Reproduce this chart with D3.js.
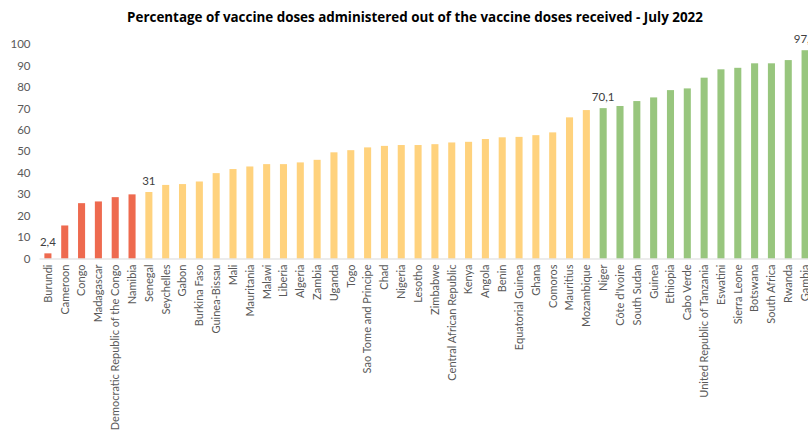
<!DOCTYPE html>
<html>
<head>
<meta charset="utf-8">
<script src="https://cdn.jsdelivr.net/npm/d3@7"></script>
<style>
  body { margin: 0; background: #fff; }
  svg { display: block; }
</style>
</head>
<body>
<script>
// countries, in the order of the chart
var countries = ["Burundi", "Cameroon", "Congo", "Madagascar", "Democratic Republic of the Congo", "Namibia",
  "Senegal", "Seychelles", "Gabon", "Burkina Faso", "Guinea-Bissau", "Mali", "Mauritania", "Malawi",
  "Liberia", "Algeria", "Zambia", "Uganda", "Togo", "Sao Tome and Principe", "Chad", "Nigeria", "Lesotho",
  "Zimbabwe", "Central African Republic", "Kenya", "Angola", "Benin", "Equatorial Guinea", "Ghana",
  "Comoros", "Mauritius", "Mozambique", "Niger", "Côte d'Ivoire", "South Sudan", "Guinea", "Ethiopia",
  "Cabo Verde", "United Republic of Tanzania", "Eswatini", "Sierra Leone", "Botswana", "South Africa",
  "Rwanda", "Gambia"];
// percentage of doses administered
var values = [2.4, 15.4, 25.8, 26.6, 28.6, 29.9,
  31, 34.3, 34.7, 35.9, 39.8, 41.7, 42.9, 44.0,
  44.0, 44.8, 46.0, 49.5, 50.5, 51.8, 52.5, 52.9, 52.9,
  53.3, 54.1, 54.4, 55.7, 56.5, 56.7, 57.5,
  58.8, 65.8, 69.2, 70.1, 71.1, 73.4, 75.1, 78.5,
  79.3, 84.3, 88.2, 88.9, 91.0, 91.0,
  92.5, 97.1];
// group of each bar: 0 = under 30, 1 = 30-70, 2 = over 70
var groups = [0, 0, 0, 0, 0, 0,
  1, 1, 1, 1, 1, 1, 1, 1, 1, 1, 1, 1, 1, 1, 1, 1, 1, 1, 1, 1, 1, 1, 1, 1, 1, 1, 1,
  2, 2, 2, 2, 2, 2, 2, 2, 2, 2, 2, 2, 2];
// bars that carry a value label
var labelled = ["Burundi", "Senegal", "Niger", "Gambia"];
var labelText = ["2,4", "31", "70,1", "97,1"];
var yTicks = [0, 10, 20, 30, 40, 50, 60, 70, 80, 90, 100];

var colors = ["#ee6a4f", "#ffd27d", "#98c67e"];

var svgWidth = 808;
var svgHeight = 431;
var plotLeft = 39.5;
var plotRight = 813.5;
var plotTop = 44;
var plotBottom = 258.5;

var svg = d3.select('body').append('svg')
  .attr('width', svgWidth)
  .attr('height', svgHeight);

var xScale = d3.scaleBand()
  .domain(countries)
  .range([plotLeft, plotRight])
  .paddingInner(0.58)
  .paddingOuter(0.29);

var yScale = d3.scaleLinear()
  .domain([0, 100])
  .range([plotBottom, plotTop]);

// title
svg.append('text')
  .attr('x', 415)
  .attr('y', 22)
  .attr('text-anchor', 'middle')
  .style('font-family', 'Open Sans')
  .style('font-weight', 'bold')
  .style('font-size', '13.4px')
  .attr('fill', '#000')
  .text('Percentage of vaccine doses administered out of the vaccine doses received - July 2022');

// bars
svg.selectAll('rect.bar')
  .data(countries)
  .enter()
  .append('rect')
  .attr('class', 'bar')
  .attr('x', function(d) { return xScale(d); })
  .attr('width', xScale.bandwidth())
  .attr('y', function(d, i) { return yScale(values[i]); })
  .attr('height', function(d, i) { return yScale(0) - yScale(values[i]); })
  .attr('fill', function(d, i) { return colors[groups[i]]; });

// y axis (labels only)
var yAxis = d3.axisLeft(yScale)
  .tickValues(yTicks)
  .tickSize(0)
  .tickPadding(9);

var yg = svg.append('g')
  .attr('transform', 'translate(' + plotLeft + ',0)')
  .call(yAxis);
yg.select('.domain').remove();
yg.selectAll('text')
  .style('font-family', 'Lato')
  .style('font-size', '11.5px')
  .attr('fill', '#595959');

// x axis
var xAxis = d3.axisBottom(xScale).tickSize(0).tickPadding(6);
var xg = svg.append('g')
  .attr('transform', 'translate(0,' + plotBottom + ')')
  .call(xAxis);
xg.select('.domain')
  .attr('stroke', '#d9d9d9')
  .attr('d', 'M' + plotLeft + ',0.5H' + plotRight);
xg.selectAll('text')
  .style('font-family', 'Lato')
  .style('font-size', '11px')
  .attr('fill', '#595959')
  .attr('text-anchor', 'end')
  .attr('dy', '0.35em')
  .attr('transform', 'rotate(-90)')
  .attr('x', -6)
  .attr('y', 0);

// value labels
svg.selectAll('text.val')
  .data(labelled)
  .enter()
  .append('text')
  .attr('class', 'val')
  .attr('x', function(d) { return xScale(d) + xScale.bandwidth() / 2; })
  .attr('y', function(d) { return yScale(values[countries.indexOf(d)]) - 7; })
  .attr('text-anchor', 'middle')
  .style('font-family', 'Lato')
  .style('font-size', '11.5px')
  .attr('fill', '#404040')
  .text(function(d, i) { return labelText[i]; });
</script>
</body>
</html>
